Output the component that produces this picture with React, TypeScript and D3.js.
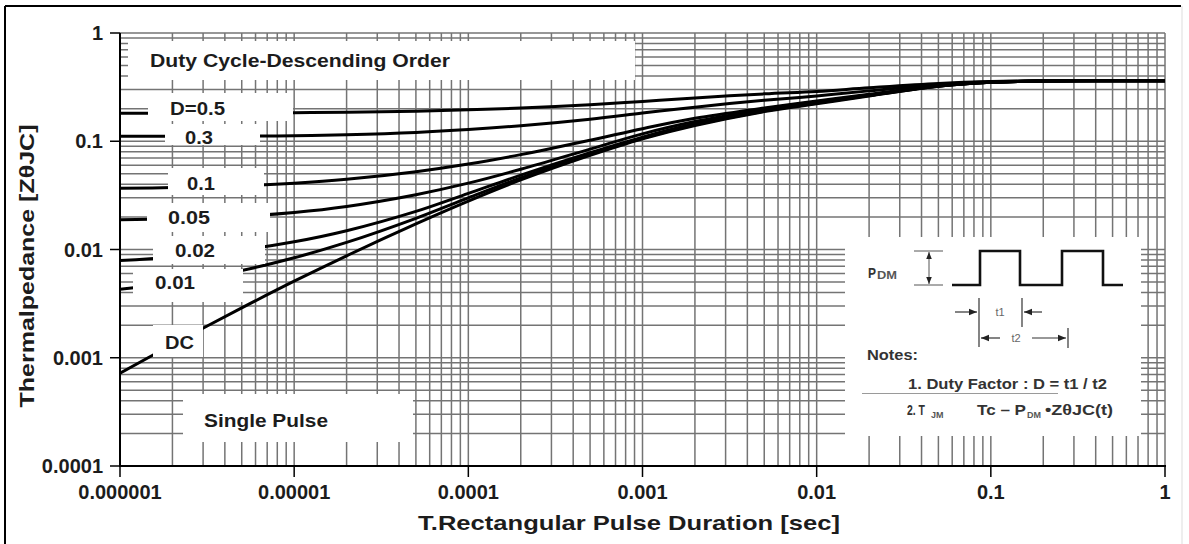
import React from "react";
import * as d3 from "d3";

// ---- data ----
const T = [1e-6, 2e-6, 5e-6, 1e-5, 2e-5, 5e-5, 1e-4, 2e-4, 5e-4, 1e-3, 2e-3, 5e-3, 1e-2, 2e-2, 5e-2, 0.1, 0.2, 0.5, 1];
const D05 = [0.1814, 0.1817, 0.1824, 0.1836, 0.1854, 0.1893, 0.195, 0.2028, 0.2178, 0.2334, 0.251, 0.274, 0.2885, 0.312, 0.342, 0.356, 0.361, 0.362, 0.362];
const D03 = [0.111, 0.1111, 0.1114, 0.1124, 0.1148, 0.1206, 0.1282, 0.1391, 0.16, 0.182, 0.2066, 0.2388, 0.262, 0.292, 0.334, 0.3536, 0.36, 0.362, 0.362];
const D01 = [0.0368, 0.0373, 0.0389, 0.041, 0.0445, 0.0523, 0.0615, 0.0752, 0.1022, 0.1307, 0.163, 0.203, 0.236, 0.272, 0.326, 0.351, 0.36, 0.362, 0.362];
const D005 = [0.0188, 0.0192, 0.0203, 0.022, 0.025, 0.0321, 0.041, 0.0551, 0.0846, 0.117, 0.152, 0.196, 0.231, 0.268, 0.324, 0.3506, 0.36, 0.362, 0.362];
const D002 = [0.0079, 0.00847, 0.0099, 0.01177, 0.0149, 0.0225, 0.033, 0.0486, 0.0783, 0.1092, 0.145, 0.192, 0.227, 0.266, 0.323, 0.3503, 0.36, 0.362, 0.362];
const D001 = [0.0043, 0.00491, 0.0064, 0.00838, 0.01162, 0.0194, 0.03, 0.0458, 0.0758, 0.1065, 0.142, 0.19, 0.225, 0.264, 0.3224, 0.3501, 0.36, 0.362, 0.362];
const DC = [0.00072, 0.001325, 0.002887, 0.005096, 0.00875, 0.01724, 0.028, 0.0439, 0.074, 0.1054, 0.14, 0.188, 0.222, 0.262, 0.322, 0.35, 0.36, 0.362, 0.362];
const SERIES = [D05, D03, D01, D005, D002, D001, DC];

const X_TICKS = [1e-6, 1e-5, 1e-4, 1e-3, 1e-2, 1e-1, 1];
const X_TICK_LABELS = ["0.000001", "0.00001", "0.0001", "0.001", "0.01", "0.1", "1"];
const Y_TICKS = [1e-4, 1e-3, 1e-2, 1e-1, 1];
const Y_TICK_LABELS = ["0.0001", "0.001", "0.01", "0.1", "1"];

const X_TITLE = "T.Rectangular Pulse Duration [sec]";
const Y_TITLE = "Thermalpedance [ZθJC]";

// label boxes: [text, boxX0, boxY0, boxX1, boxY1, textX, textBaseline, textLength]
const LABELS: [string, number, number, number, number, number, number, number][] = [
  ["Duty Cycle-Descending Order", 128, 41, 635, 80, 150, 66.5, 300],
  ["D=0.5", 148, 93, 293, 121, 170, 114.5, 55],
  ["0.3", 165, 124, 260, 145, 185, 143.5, 28],
  ["0.1", 168, 168, 264, 195, 187, 189.5, 28],
  ["0.05", 147, 203, 270, 232, 168, 223.5, 42],
  ["0.02", 153, 236, 265, 264, 175, 256.5, 40],
  ["0.01", 133, 269, 243, 302, 155, 288.5, 40],
  ["DC", 153, 325, 203, 357, 165, 348.5, 29],
  ["Single Pulse", 183, 394, 413, 442, 204, 426.5, 124],
];

const W = 1189;
const H = 544;
const FONT = "'Liberation Sans', Arial, Helvetica, sans-serif";
const GRID = "#747474";
const TXT = "#1c1c1c";

export default function App() {
  const x = d3.scaleLog().domain([1e-6, 1]).range([120, 1165]);
  const y = d3.scaleLog().domain([1e-4, 1]).range([466, 33]);

  const xGrid: number[] = [];
  for (let e = -6; e < 0; e++) for (let k = 1; k <= 9; k++) xGrid.push(k * Math.pow(10, e));
  xGrid.push(1);
  const yGrid: number[] = [];
  for (let e = -4; e < 0; e++) for (let k = 1; k <= 9; k++) yGrid.push(k * Math.pow(10, e));
  yGrid.push(1);

  const line = d3
    .line<[number, number]>()
    .x((d) => x(d[0]))
    .y((d) => y(d[1]))
    .curve(d3.curveCatmullRom.alpha(0.5));

  // inset box
  const ib = { x0: 845, y0: 237, x1: 1141, y1: 436 };
  const wave = [
    [952, 285], [980, 285], [980, 251], [1020, 251], [1020, 285],
    [1062, 285], [1062, 251], [1103, 251], [1103, 285], [1123, 285],
  ];

  return (
    <svg
      width={W}
      height={H}
      viewBox={`0 0 ${W} ${H}`}
      style={{ position: "absolute", left: 0, top: 0, background: "#fff" }}
      fontFamily={FONT}
    >
      <defs>
        <marker id="ah" viewBox="0 0 10 10" refX="10" refY="5" markerWidth="7" markerHeight="7" orient="auto-start-reverse">
          <path d="M0,1 L10,5 L0,9 z" fill="#222" />
        </marker>
        <clipPath id="plot">
          <rect x={120} y={33} width={1045} height={433} />
        </clipPath>
      </defs>
      <rect x={0} y={0} width={W} height={H} fill="#fff" />
      {/* outer frame */}
      <line x1={5} y1={6} x2={1181} y2={6} stroke="#000" strokeWidth={2} />
      <line x1={5} y1={6} x2={5} y2={544} stroke="#000" strokeWidth={2} />
      <line x1={1182} y1={6} x2={1182} y2={544} stroke="#dddddd" strokeWidth={1} />

      {/* grid */}
      <g stroke={GRID} strokeWidth={1.5}>
        {xGrid.map((t, i) => (
          <line key={"gx" + i} x1={x(t)} x2={x(t)} y1={33} y2={466} />
        ))}
        {yGrid.map((v, i) => (
          <line key={"gy" + i} x1={120} x2={1165} y1={y(v)} y2={y(v)} />
        ))}
      </g>

      {/* curves */}
      <g clipPath="url(#plot)" fill="none" stroke="#000" strokeWidth={3} strokeLinejoin="round">
        {SERIES.map((s, i) => (
          <path key={"s" + i} d={line(T.map((t, j) => [t, s[j]] as [number, number])) || ""} />
        ))}
      </g>

      {/* label boxes */}
      {LABELS.map((l, i) => (
        <rect key={"lb" + i} x={l[1]} y={l[2]} width={l[3] - l[1]} height={l[4] - l[2]} fill="#fff" />
      ))}
      {LABELS.map((l, i) => (
        <text
          key={"lt" + i}
          x={l[5]}
          y={l[6]}
          fontSize={18}
          fontWeight="bold"
          fill={TXT}
          textLength={l[7]}
          lengthAdjust="spacingAndGlyphs"
        >
          {l[0]}
        </text>
      ))}

      {/* inset */}
      <rect x={ib.x0} y={ib.y0} width={ib.x1 - ib.x0} height={ib.y1 - ib.y0} fill="#fff" />
      <text x={868} y={278} fontSize={15} fontWeight="bold" fill="#333" textLength={8} lengthAdjust="spacingAndGlyphs">P</text>
      <text x={877} y={279} fontSize={10} fontWeight="bold" fill="#555" textLength={20} lengthAdjust="spacingAndGlyphs">DM</text>
      <g stroke="#555" strokeWidth={1}>
        <line x1={914} x2={943} y1={251} y2={251} />
        <line x1={914} x2={943} y1={285} y2={285} />
        <line x1={929} x2={929} y1={252} y2={284} markerStart="url(#ah)" markerEnd="url(#ah)" />
      </g>
      <polyline points={wave.map((p) => p.join(",")).join(" ")} fill="none" stroke="#111" strokeWidth={2.6} />
      <g stroke="#333" strokeWidth={1.2} fill="none">
        <line x1={979} x2={979} y1={298} y2={347} />
        <line x1={1022} x2={1022} y1={298} y2={327} />
        <line x1={1068} x2={1068} y1={328} y2={348} />
        <line x1={955} x2={977} y1={312} y2={312} markerEnd="url(#ah)" />
        <line x1={1042} x2={1024} y1={312} y2={312} markerEnd="url(#ah)" />
        <line x1={1000} x2={981} y1={338} y2={338} markerEnd="url(#ah)" />
        <line x1={1032} x2={1066} y1={338} y2={338} markerEnd="url(#ah)" />
      </g>
      <text x={1000} y={316} fontSize={11} fill="#666" textAnchor="middle">t1</text>
      <text x={1016} y={342} fontSize={11} fill="#666" textAnchor="middle">t2</text>
      <text x={867} y={360} fontSize={15} fontWeight="bold" fill="#333" textLength={51} lengthAdjust="spacingAndGlyphs">Notes:</text>
      <text x={908} y={389} fontSize={14} fontWeight="bold" fill="#333" textLength={199} lengthAdjust="spacingAndGlyphs">1. Duty Factor : D = t1 / t2</text>
      <line x1={862} x2={1058} y1={393.5} y2={393.5} stroke="#9a9a9a" strokeWidth={1} />
      <text x={907} y={415} fontSize={14} fontWeight="bold" fill="#333" textLength={18} lengthAdjust="spacingAndGlyphs">2. T</text>
      <text x={931} y={418} fontSize={9} fontWeight="bold" fill="#555">JM</text>
      <text x={977} y={415} fontSize={14} fontWeight="bold" fill="#333" textLength={49} lengthAdjust="spacingAndGlyphs">Tc – P</text>
      <text x={1027} y={418} fontSize={9} fontWeight="bold" fill="#555">DM</text>
      <text x={1045} y={415} fontSize={14} fontWeight="bold" fill="#333" textLength={68} lengthAdjust="spacingAndGlyphs">•ZθJC(t)</text>

      {/* axes */}
      <line x1={120} x2={120} y1={33} y2={467} stroke="#000" strokeWidth={2} />
      <line x1={119} x2={1166} y1={466} y2={466} stroke="#000" strokeWidth={2} />
      {Y_TICKS.map((v, i) => (
        <g key={"yt" + i}>
          <line x1={110} x2={120} y1={y(v)} y2={y(v)} stroke="#000" strokeWidth={1.5} />
          <text x={103} y={y(v)} dy="0.35em" textAnchor="end" fontSize={20} fontWeight="bold" fill={TXT}>
            {Y_TICK_LABELS[i]}
          </text>
        </g>
      ))}
      {X_TICKS.map((t, i) => (
        <g key={"xt" + i}>
          <line x1={x(t)} x2={x(t)} y1={466} y2={477} stroke="#000" strokeWidth={1.5} />
          <text x={x(t)} y={499} textAnchor="middle" fontSize={20} fontWeight="bold" fill={TXT}>
            {X_TICK_LABELS[i]}
          </text>
        </g>
      ))}
      <text x={418} y={530} fontSize={21} fontWeight="bold" fill={TXT} textLength={422} lengthAdjust="spacingAndGlyphs">
        {X_TITLE}
      </text>
      <text
        transform="translate(34,266) rotate(-90)"
        textAnchor="middle"
        fontSize={21}
        fontWeight="bold"
        fill={TXT}
        textLength={283}
        lengthAdjust="spacingAndGlyphs"
      >
        {Y_TITLE}
      </text>
    </svg>
  );
}
